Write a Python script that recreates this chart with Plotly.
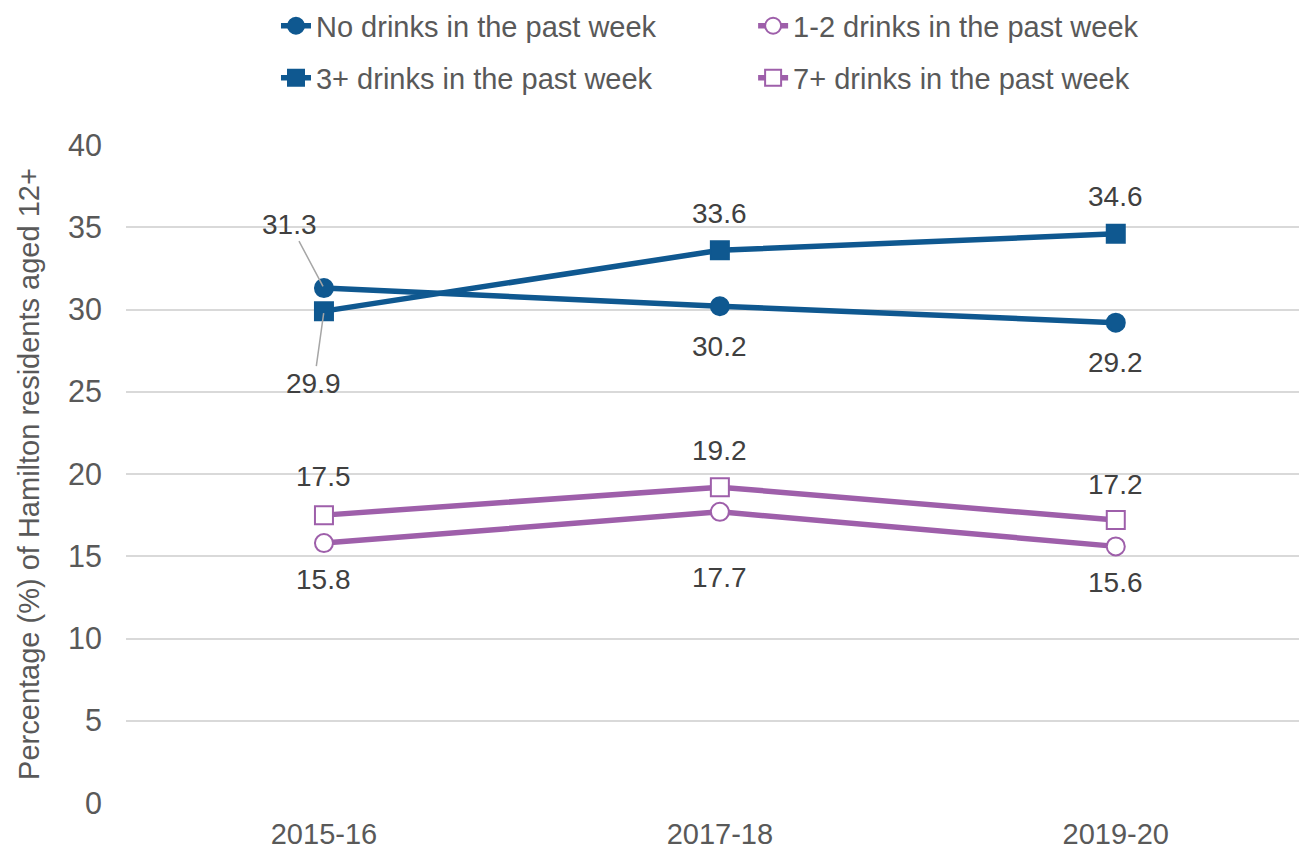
import plotly.graph_objects as go

categories = ["2015-16", "2017-18", "2019-20"]
no_drinks = [31.3, 30.2, 29.2]
one_two = [15.8, 17.7, 15.6]
three_plus = [29.9, 33.6, 34.6]
seven_plus = [17.5, 19.2, 17.2]
y_ticks = [0, 5, 10, 15, 20, 25, 30, 35, 40]

BLUE = "#0F5890"
PURPLE = "#9E5FAA"
FONT = "Liberation Sans, Arial, sans-serif"

series = [
    ("No drinks in the past week", no_drinks, BLUE, "circle", BLUE, "legend"),
    ("1-2 drinks in the past week", one_two, PURPLE, "circle", "white", "legend2"),
    ("3+ drinks in the past week", three_plus, BLUE, "square", BLUE, "legend3"),
    ("7+ drinks in the past week", seven_plus, PURPLE, "square", "white", "legend4"),
]

fig = go.Figure()
for name, vals, col, sym, fill, lg in series:
    fig.add_trace(go.Scatter(
        x=categories, y=vals, name=name, mode="lines+markers",
        line=dict(color=col, width=5.5),
        marker=dict(symbol=sym, size=18, color=fill,
                    line=dict(color=col, width=2)),
        legend=lg, cliponaxis=False, showlegend=True,
    ))

# label offsets in pixels (xshift, yshift) and whether a leader line is drawn
label_style = {
    0: [(-34, 64, True), (0, -40, False), (0, -40, False)],
    1: [(0, -36, False), (0, -66, False), (0, -36, False)],
    2: [(-10, -72, True), (0, 37, False), (0, 37, False)],
    3: [(0, 39, False), (0, 37, False), (0, 36, False)],
}
for si, (name, vals, col, sym, fill, lg) in enumerate(series):
    for ci, v in enumerate(vals):
        dx, dy, leader = label_style[si][ci]
        if leader:
            fig.add_annotation(x=categories[ci], y=v, text=f"{v:.1f}",
                               showarrow=True, ax=dx, ay=-dy, arrowhead=0,
                               arrowwidth=1.5, arrowcolor="#A6A6A6", standoff=2,
                               font=dict(family=FONT, size=28, color="#404040"))
        else:
            fig.add_annotation(x=categories[ci], y=v, text=f"{v:.1f}",
                               showarrow=False, xshift=dx, yshift=dy,
                               font=dict(family=FONT, size=28, color="#404040"))

leg_common = dict(font=dict(family=FONT, size=29, color="#595959"),
                  bgcolor="rgba(0,0,0,0)", xanchor="left", yanchor="middle")
fig.update_layout(
    width=1299, height=842,
    showlegend=True,
    margin=dict(l=118, r=0, t=137, b=47, autoexpand=False),
    plot_bgcolor="white", paper_bgcolor="white",
    font=dict(family=FONT, size=28, color="#595959"),
    legend=dict(x=0.127, y=1.181, **leg_common),
    legend2=dict(x=0.531, y=1.181, **leg_common),
    legend3=dict(x=0.127, y=1.102, **leg_common),
    legend4=dict(x=0.531, y=1.102, **leg_common),
    xaxis=dict(type="category", range=[-0.5, 2.483], showgrid=False,
               showline=False, zeroline=False, ticks="", automargin=False,
               ticklabelstandoff=11,
               tickfont=dict(family=FONT, size=29, color="#595959")),
    yaxis=dict(range=[0, 40], tickvals=y_ticks, showgrid=True,
               gridcolor="#D9D9D9", gridwidth=1.5, zeroline=False,
               showline=False, ticks="", ticklabelstandoff=23, automargin=False,
               tickfont=dict(family=FONT, size=30.5, color="#595959"),
               title=dict(text="Percentage (%) of Hamilton residents aged 12+",
                          standoff=19,
                          font=dict(family=FONT, size=29, color="#595959"))),
)
fig.write_html("out.html")
